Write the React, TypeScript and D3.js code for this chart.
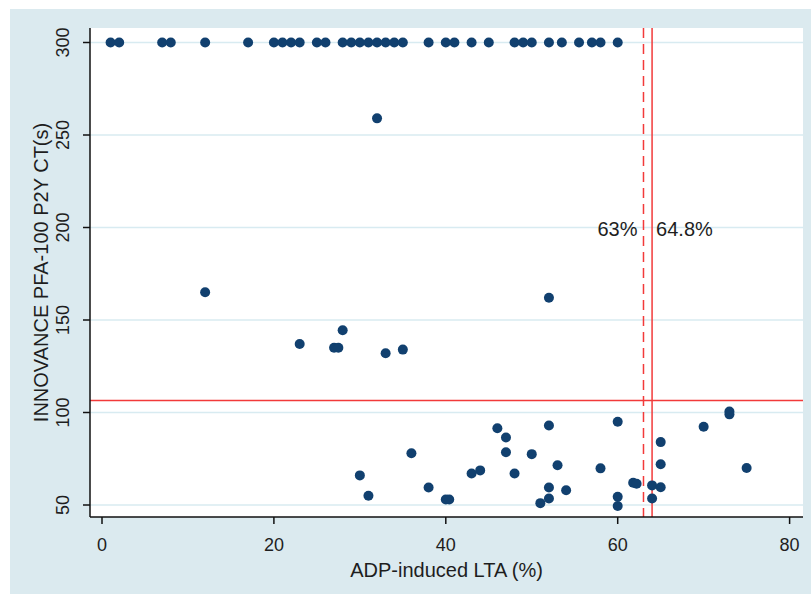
import React from "react";
import * as d3 from "d3";

// ---- data ----
const xTicks = [0, 20, 40, 60, 80];
const yTicks = [50, 100, 150, 200, 250, 300];

// points at the 300 s ceiling
const ceilingX = [1, 2, 7, 8, 12, 17, 20, 21, 22, 23, 25, 26, 28, 29, 30, 31, 32, 33, 34, 35, 38, 40, 41, 43, 45, 48, 49, 50, 52, 53.5, 55.5, 57, 58, 60];
const ceilingY = 300;

// remaining points [LTA %, closure time s]
const pointX = [12, 23, 27, 27.5, 28, 33, 35, 32, 52, 30, 31, 36, 38, 40, 40.4, 43, 44, 46, 47, 47, 48, 50, 51, 52, 52, 52, 53, 54, 58, 60, 60, 60, 61.8, 62.2, 64, 64, 65, 65, 65, 70, 73, 73, 75];
const pointY = [165, 137, 135, 135, 144.5, 132, 134, 259, 162, 66, 55, 78, 59.5, 53, 53, 67, 68.7, 91.5, 86.5, 78.5, 67, 77.5, 51, 93, 59.5, 53.5, 71.5, 58, 69.8, 95, 54.5, 49.5, 62, 61.5, 60.6, 53.5, 59.6, 72, 84, 92.3, 99, 100.5, 70];

const cutHorizontal = 106.5;
const cutDashed = 63;
const cutSolid = 64;
const labelDashed = "63%";
const labelSolid = "64.8%";
const xTitle = "ADP-induced LTA (%)";
const yTitle = "INNOVANCE PFA-100 P2Y CT(s)";

const W = 811;
const H = 594;
const plot = { left: 90, right: 803, top: 28, bottom: 517 };

const FONT = "'Liberation Sans', Arial, sans-serif";
const NAVY = "#11406f";
const RED = "#f23a3a";
const GRID = "#d8ebf1";
const BG = "#dbeaef";
const TEXT = "#1e1e1e";

export default function App() {
  const x = d3.scaleLinear().domain([0, 80]).range([102, 789.6]);
  const y = d3.scaleLinear().domain([50, 300]).range([505, 42.5]);

  const pts: [number, number][] = [
    ...ceilingX.map((v) => [v, ceilingY] as [number, number]),
    ...pointX.map((v, i) => [v, pointY[i]] as [number, number]),
  ];

  return (
    <svg
      width={W}
      height={H}
      style={{ position: "absolute", left: 0, top: 0, display: "block" }}
    >
      <rect x={0} y={0} width={W} height={H} fill="#ffffff" />
      <rect x={10} y={9} width={W - 10} height={H - 9} fill={BG} />
      <rect
        x={plot.left}
        y={plot.top}
        width={plot.right - plot.left}
        height={plot.bottom - plot.top}
        fill="#ffffff"
      />
      {/* grid */}
      {yTicks.map((t) => (
        <line
          key={"g" + t}
          x1={plot.left}
          x2={plot.right}
          y1={y(t)}
          y2={y(t)}
          stroke={GRID}
          strokeWidth={1.5}
        />
      ))}
      {/* reference lines */}
      <line
        x1={plot.left}
        x2={plot.right}
        y1={y(cutHorizontal)}
        y2={y(cutHorizontal)}
        stroke={RED}
        strokeWidth={1.5}
      />
      <line
        x1={x(cutDashed)}
        x2={x(cutDashed)}
        y1={plot.top}
        y2={plot.bottom}
        stroke={RED}
        strokeWidth={1.5}
        strokeDasharray="10 6"
      />
      <line
        x1={x(cutSolid)}
        x2={x(cutSolid)}
        y1={plot.top}
        y2={plot.bottom}
        stroke={RED}
        strokeWidth={1.5}
      />
      <text
        x={x(cutDashed) - 6}
        y={y(200) + 8}
        textAnchor="end"
        fontFamily={FONT}
        fontSize={20}
        fill={TEXT}
      >
        {labelDashed}
      </text>
      <text
        x={x(cutSolid) + 4}
        y={y(200) + 8}
        textAnchor="start"
        fontFamily={FONT}
        fontSize={20}
        fill={TEXT}
      >
        {labelSolid}
      </text>
      {/* points */}
      {pts.map(([a, b], i) => (
        <circle key={"p" + i} cx={x(a)} cy={y(b)} r={5} fill={NAVY} />
      ))}
      {/* axes */}
      <line x1={plot.left} x2={plot.left} y1={plot.top} y2={plot.bottom} stroke="#111" strokeWidth={1.5} />
      <line x1={plot.left} x2={plot.right} y1={plot.bottom} y2={plot.bottom} stroke="#111" strokeWidth={1.5} />
      {yTicks.map((t) => (
        <g key={"yt" + t}>
          <line x1={plot.left - 7} x2={plot.left} y1={y(t)} y2={y(t)} stroke="#111" strokeWidth={1.5} />
          <text
            transform={`translate(69,${y(t)}) rotate(-90)`}
            textAnchor="middle"
            fontFamily={FONT}
            fontSize={18}
            fill={TEXT}
          >
            {t}
          </text>
        </g>
      ))}
      {xTicks.map((t) => (
        <g key={"xt" + t}>
          <line x1={x(t)} x2={x(t)} y1={plot.bottom} y2={plot.bottom + 7} stroke="#111" strokeWidth={1.5} />
          <text x={x(t)} y={551} textAnchor="middle" fontFamily={FONT} fontSize={18} fill={TEXT}>
            {t}
          </text>
        </g>
      ))}
      <text
        x={(plot.left + plot.right) / 2}
        y={577}
        textAnchor="middle"
        fontFamily={FONT}
        fontSize={20}
        fill={TEXT}
      >
        {xTitle}
      </text>
      <text
        transform={`translate(48,${(plot.top + plot.bottom) / 2}) rotate(-90)`}
        textAnchor="middle"
        fontFamily={FONT}
        fontSize={20}
        fill={TEXT}
      >
        {yTitle}
      </text>
    </svg>
  );
}
